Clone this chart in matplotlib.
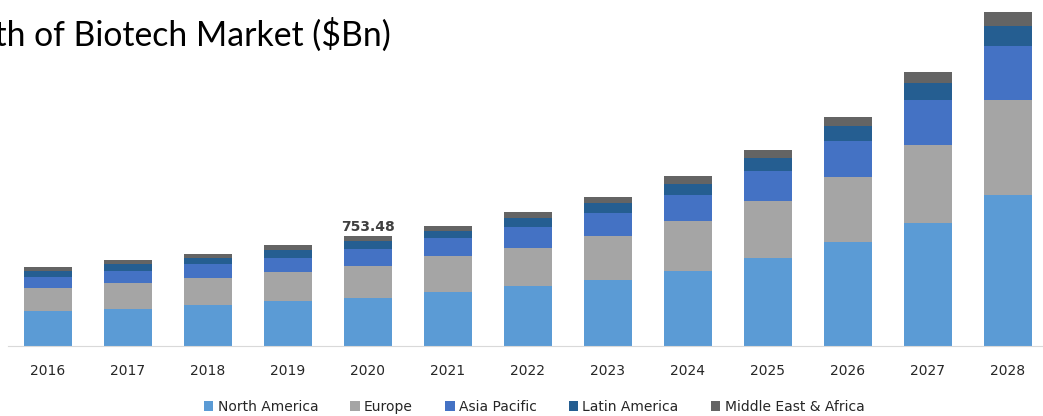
import matplotlib.pyplot as plt
import numpy as np

years = ['2016', '2017', '2018', '2019', '2020', '2021', '2022',
         '2023', '2024', '2025', '2026', '2027', '2028']

north_america = [240.4, 256.2, 281.6, 311.1, 332.5, 370.9, 414.2,
                 456.1, 517.9, 606.5, 712.3, 844.8, 1037.1]
europe = [155.9, 174.5, 183.4, 199.2, 219.8, 245.2, 261.0,
          297.4, 340.7, 387.4, 446.5, 535.7, 652.5]
asia_pacific = [79.7, 86.5, 96.2, 96.2, 112.0, 123.6, 140.1,
                160.0, 178.6, 210.2, 249.3, 309.1, 368.8]
latin_america = [41.2, 44.0, 43.3, 52.9, 54.9, 50.1, 65.9,
                 71.4, 78.3, 89.3, 103.0, 114.7, 141.5]
middle_east_africa = [27.5, 27.5, 27.5, 34.3, 34.28, 36.4, 41.2,
                      41.2, 54.9, 50.8, 63.9, 75.6, 92.0]

series = [('North America', north_america, '#5b9bd5'),
          ('Europe', europe, '#a5a5a5'),
          ('Asia Pacific', asia_pacific, '#4472c4'),
          ('Latin America', latin_america, '#255e91'),
          ('Middle East & Africa', middle_east_africa, '#646464')]

label_year = '2020'
label_text = '753.48'

fig = plt.figure(figsize=(10.43, 4.16), dpi=100)
ax = fig.add_axes([8 / 1043, 70 / 416, 1040 / 1043, 346 / 416])

x = np.arange(len(years))
bottom = np.zeros(len(years))
for name, vals, color in series:
    ax.bar(x, vals, width=0.59, bottom=bottom, color=color, label=name)
    bottom += np.array(vals)

i = years.index(label_year)
ax.text(x[i], bottom[i] + 14, label_text, ha='center', va='bottom',
        fontsize=10, fontweight='bold', color='#404040')

ax.set_xlim(-0.5, len(years) - 0.5)
ax.set_ylim(0, 2376)
ax.set_xticks(x)
ax.set_xticklabels(years, fontsize=10, color='#262626')
ax.tick_params(axis='x', length=0, pad=13)
ax.set_yticks([])
for side in ['left', 'right', 'top']:
    ax.spines[side].set_visible(False)
ax.spines['bottom'].set_color('#d9d9d9')

# title is cut off at the left edge in the source image
fig.text(391 / 1043, 1 - 35 / 416, 'Growth of Biotech Market ($Bn)',
         ha='right', va='center', fontsize=24.3, family=['Lato', 'DejaVu Sans'],
         color='black')

fig.legend(loc='center', bbox_to_anchor=(534 / 1043, 1 - 407 / 416), ncol=5,
           frameon=False, fontsize=10, handlelength=0.7, handleheight=0.7,
           handletextpad=0.3, columnspacing=2.3, labelcolor='#262626')

fig.savefig('out.png', dpi=100)
